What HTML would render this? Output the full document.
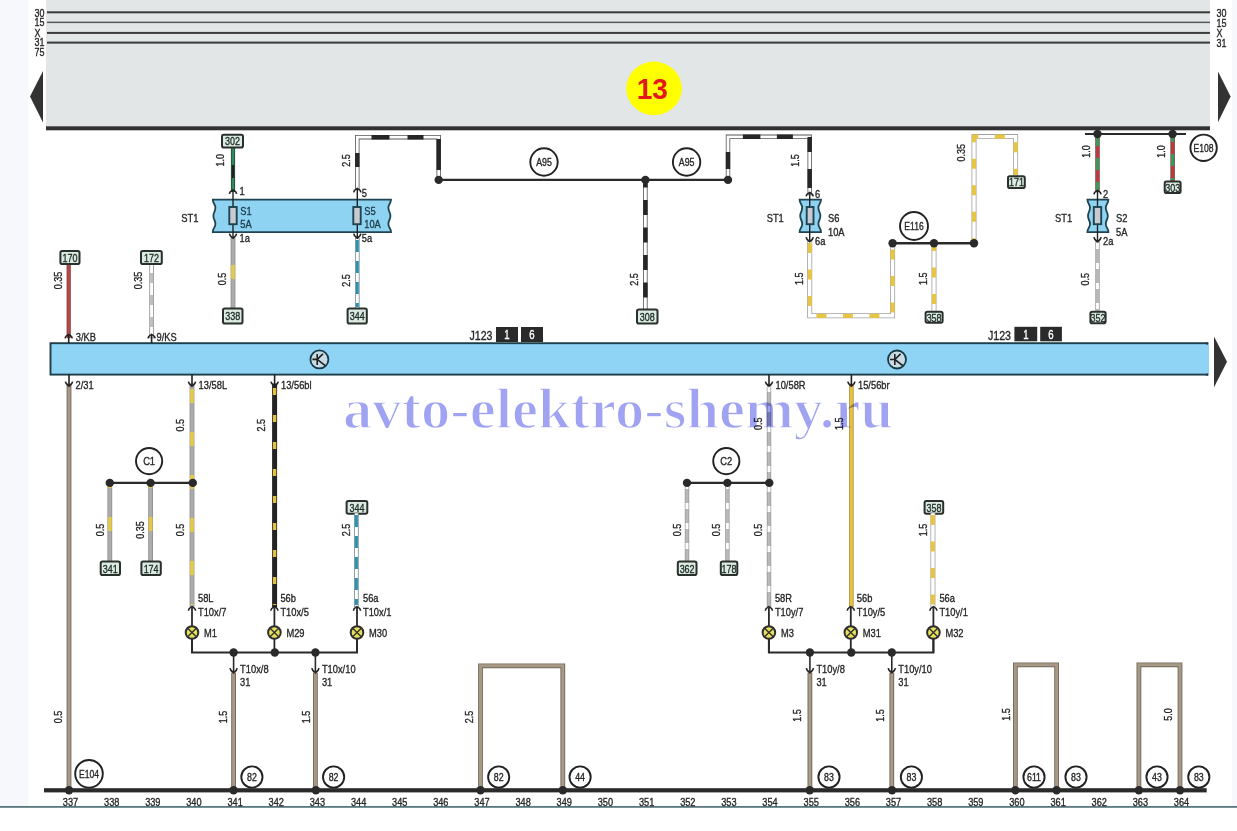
<!DOCTYPE html>
<html><head><meta charset="utf-8"><title>Wiring diagram</title>
<style>html,body{margin:0;padding:0;background:#fff;overflow:hidden;width:1237px;height:831px}svg{display:block}</style>
</head><body>
<svg width="1237" height="831" viewBox="0 0 1237 831" font-family='"Liberation Sans", sans-serif'><rect x="0" y="0" width="1237" height="831" fill="#ffffff"/>
<rect x="0" y="0" width="28.5" height="806" fill="#f7f8fb"/>
<rect x="1232" y="0" width="5" height="806" fill="#f7f8fb"/>
<rect x="0" y="806" width="1237" height="1.8" fill="#5a7880"/>
<rect x="46" y="0" width="1164" height="127" fill="#e2e6e7"/>
<rect x="47" y="11.3" width="1163" height="2.0" fill="#3a3a3a"/>
<rect x="47" y="21.6" width="1163" height="1.5" fill="#5a5a5a"/>
<rect x="47" y="31.9" width="1163" height="2.0" fill="#3a3a3a"/>
<rect x="47" y="41.6" width="1163" height="2.0" fill="#3a3a3a"/>
<rect x="46" y="126.3" width="1164" height="4" fill="#323232"/>
<text transform="translate(34.5,16.6) scale(0.78,1)" font-size="11.5" text-anchor="start" fill="#262626" font-weight="normal" stroke="#262626" stroke-width="0.35">30</text>
<text transform="translate(34.5,26.2) scale(0.78,1)" font-size="11.5" text-anchor="start" fill="#262626" font-weight="normal" stroke="#262626" stroke-width="0.35">15</text>
<text transform="translate(34.5,36.5) scale(0.78,1)" font-size="11.5" text-anchor="start" fill="#262626" font-weight="normal" stroke="#262626" stroke-width="0.35">X</text>
<text transform="translate(34.5,46.3) scale(0.78,1)" font-size="11.5" text-anchor="start" fill="#262626" font-weight="normal" stroke="#262626" stroke-width="0.35">31</text>
<text transform="translate(34.5,56.0) scale(0.78,1)" font-size="11.5" text-anchor="start" fill="#262626" font-weight="normal" stroke="#262626" stroke-width="0.35">75</text>
<text transform="translate(1216.5,16.9) scale(0.78,1)" font-size="11.5" text-anchor="start" fill="#262626" font-weight="normal" stroke="#262626" stroke-width="0.35">30</text>
<text transform="translate(1216.5,27.0) scale(0.78,1)" font-size="11.5" text-anchor="start" fill="#262626" font-weight="normal" stroke="#262626" stroke-width="0.35">15</text>
<text transform="translate(1216.5,37.0) scale(0.78,1)" font-size="11.5" text-anchor="start" fill="#262626" font-weight="normal" stroke="#262626" stroke-width="0.35">X</text>
<text transform="translate(1216.5,47.2) scale(0.78,1)" font-size="11.5" text-anchor="start" fill="#262626" font-weight="normal" stroke="#262626" stroke-width="0.35">31</text>
<path d="M30,96.5 L43,71 L43,122.5 Z" fill="#333"/>
<path d="M1230.6,96.5 L1218,71.6 L1218,122.2 Z" fill="#333"/>
<ellipse cx="654" cy="88.4" rx="27.8" ry="26.8" fill="#ffff00"/>
<text transform="translate(652.3,99.0) scale(0.97,1)" font-size="29" text-anchor="middle" fill="#e2181c" font-weight="bold">13</text>
<path d="M1085.0,134.0 L1186.0,134.0" fill="none" stroke="#2a2a2a" stroke-width="2.2" stroke-linecap="butt" stroke-linejoin="miter"/>
<path d="M212.8,199.6 C212.8,203.7 215.4,203.7 215.4,207.8 C215.4,211.8 213.4,211.8 213.4,215.9 C213.4,220.0 215.4,220.0 215.4,224.0 C215.4,228.1 212.8,228.1 212.8,232.2 L391.0,232.2 C391.0,228.1 388.4,228.1 388.4,224.0 C388.4,220.0 390.4,220.0 390.4,215.9 C390.4,211.8 388.4,211.8 388.4,207.8 C388.4,203.7 391.0,203.7 391.0,199.6 Z" fill="#8fd3f2" stroke="#1f4452" stroke-width="1.8" stroke-linejoin="miter"/>
<path d="M799.6,199.6 C799.6,203.7 802.2,203.7 802.2,207.8 C802.2,211.8 800.2,211.8 800.2,215.9 C800.2,220.0 802.2,220.0 802.2,224.0 C802.2,228.1 799.6,228.1 799.6,232.2 L821.0,232.2 C821.0,228.1 818.4,228.1 818.4,224.0 C818.4,220.0 820.4,220.0 820.4,215.9 C820.4,211.8 818.4,211.8 818.4,207.8 C818.4,203.7 821.0,203.7 821.0,199.6 Z" fill="#8fd3f2" stroke="#1f4452" stroke-width="1.8" stroke-linejoin="miter"/>
<path d="M1087.4,199.6 C1087.4,203.7 1090.0,203.7 1090.0,207.8 C1090.0,211.8 1088.0,211.8 1088.0,215.9 C1088.0,220.0 1090.0,220.0 1090.0,224.0 C1090.0,228.1 1087.4,228.1 1087.4,232.2 L1108.4,232.2 C1108.4,228.1 1105.8,228.1 1105.8,224.0 C1105.8,220.0 1107.8,220.0 1107.8,215.9 C1107.8,211.8 1105.8,211.8 1105.8,207.8 C1105.8,203.7 1108.4,203.7 1108.4,199.6 Z" fill="#8fd3f2" stroke="#1f4452" stroke-width="1.8" stroke-linejoin="miter"/>
<path d="M233.0,149.0 L233.0,190.0" fill="none" stroke="#2a4a3c" stroke-width="4.2" stroke-linejoin="miter" stroke-linecap="square"/>
<path d="M233.0,149.0 L233.0,190.0" fill="none" stroke="#2e8c5c" stroke-width="2.4" stroke-linejoin="miter" stroke-linecap="square"/>
<path d="M233.0,149.0 L233.0,190.0" fill="none" stroke="#222" stroke-width="2.4" stroke-dasharray="13 40" stroke-dashoffset="-16" stroke-linejoin="miter"/>
<rect x="222.0" y="134.7" width="21.0" height="12.8" rx="1.8" fill="#dcebe1" stroke="#2a302d" stroke-width="2"/>
<text transform="translate(232.5,145.3) scale(0.76,1)" font-size="11.8" text-anchor="middle" fill="#1d2a26" font-weight="normal" stroke="#1d2a26" stroke-width="0.35">302</text>
<text transform="translate(224.3,160.3) rotate(-90) scale(0.82,1)" font-size="11" text-anchor="middle" fill="#262626" stroke="#262626" stroke-width="0.35">1.0</text>
<path d="M233.0,190.0 L233.0,238.0" fill="none" stroke="#222" stroke-width="1.4" stroke-linecap="butt" stroke-linejoin="miter"/>
<rect x="229.3" y="207" width="7.4" height="17.2" fill="#c8ccd2" stroke="#1f4452" stroke-width="1.9"/>
<text transform="translate(239.5,195.0) scale(0.79,1)" font-size="11.8" text-anchor="start" fill="#262626" font-weight="normal" stroke="#262626" stroke-width="0.35">1</text>
<text transform="translate(240.3,214.8) scale(0.79,1)" font-size="11.8" text-anchor="start" fill="#1c3a48" font-weight="normal" stroke="#1c3a48" stroke-width="0.35">S1</text>
<text transform="translate(240.3,228.3) scale(0.79,1)" font-size="11.8" text-anchor="start" fill="#1c3a48" font-weight="normal" stroke="#1c3a48" stroke-width="0.35">5A</text>
<text transform="translate(239.5,242.0) scale(0.79,1)" font-size="11.8" text-anchor="start" fill="#262626" font-weight="normal" stroke="#262626" stroke-width="0.35">1a</text>
<path d="M233.0,240.0 L233.0,307.0" fill="none" stroke="#8e8e8e" stroke-width="4.8" stroke-linejoin="miter" stroke-linecap="square"/>
<path d="M233.0,240.0 L233.0,307.0" fill="none" stroke="#acacac" stroke-width="3.2" stroke-linejoin="miter" stroke-linecap="square"/>
<path d="M233.0,240.0 L233.0,307.0" fill="none" stroke="#e3c84a" stroke-width="3.8" stroke-dasharray="14 29" stroke-dashoffset="-25" stroke-linejoin="miter"/>
<text transform="translate(226.0,279.0) rotate(-90) scale(0.82,1)" font-size="11" text-anchor="middle" fill="#262626" stroke="#262626" stroke-width="0.35">0.5</text>
<rect x="223.0" y="308.5" width="19.5" height="15.0" rx="1.8" fill="#dcebe1" stroke="#2a302d" stroke-width="2"/>
<text transform="translate(232.8,320.2) scale(0.76,1)" font-size="11.8" text-anchor="middle" fill="#1d2a26" font-weight="normal" stroke="#1d2a26" stroke-width="0.35">338</text>
<text transform="translate(198.5,222.0) scale(0.82,1)" font-size="11.5" text-anchor="end" fill="#262626" font-weight="normal" stroke="#262626" stroke-width="0.35">ST1</text>
<path d="M357.3,188.0 L357.3,137.2 L438.7,137.2 L438.7,179.9" fill="none" stroke="#555" stroke-width="4.4" stroke-linejoin="miter" stroke-linecap="square"/>
<path d="M357.3,188.0 L357.3,137.2 L438.7,137.2 L438.7,179.9" fill="none" stroke="#ffffff" stroke-width="2.8" stroke-linejoin="miter" stroke-linecap="square"/>
<path d="M357.3,188.0 L357.3,137.2 L438.7,137.2 L438.7,179.9" fill="none" stroke="#262626" stroke-width="4.4" stroke-dasharray="0 21 14 30 18 18 16 17 31 100" stroke-dashoffset="0" stroke-linejoin="miter"/>
<text transform="translate(349.8,160.4) rotate(-90) scale(0.82,1)" font-size="11" text-anchor="middle" fill="#262626" stroke="#262626" stroke-width="0.35">2.5</text>
<path d="M357.3,188.0 L357.3,238.0" fill="none" stroke="#222" stroke-width="1.4" stroke-linecap="butt" stroke-linejoin="miter"/>
<rect x="353.3" y="207" width="7.4" height="17.2" fill="#c8ccd2" stroke="#1f4452" stroke-width="1.9"/>
<text transform="translate(361.7,197.0) scale(0.79,1)" font-size="11.8" text-anchor="start" fill="#262626" font-weight="normal" stroke="#262626" stroke-width="0.35">5</text>
<text transform="translate(364.2,214.8) scale(0.79,1)" font-size="11.8" text-anchor="start" fill="#1c3a48" font-weight="normal" stroke="#1c3a48" stroke-width="0.35">S5</text>
<text transform="translate(364.2,228.3) scale(0.79,1)" font-size="11.8" text-anchor="start" fill="#1c3a48" font-weight="normal" stroke="#1c3a48" stroke-width="0.35">10A</text>
<text transform="translate(361.7,242.0) scale(0.79,1)" font-size="11.8" text-anchor="start" fill="#262626" font-weight="normal" stroke="#262626" stroke-width="0.35">5a</text>
<path d="M357.3,240.0 L357.3,307.0" fill="none" stroke="#7a8a90" stroke-width="4.6" stroke-linejoin="miter" stroke-linecap="square"/>
<path d="M357.3,240.0 L357.3,307.0" fill="none" stroke="#ffffff" stroke-width="3" stroke-linejoin="miter" stroke-linecap="square"/>
<path d="M357.3,240.0 L357.3,307.0" fill="none" stroke="#2a93ad" stroke-width="3" stroke-dasharray="12 9" stroke-dashoffset="0" stroke-linejoin="miter"/>
<text transform="translate(349.8,280.4) rotate(-90) scale(0.82,1)" font-size="11" text-anchor="middle" fill="#262626" stroke="#262626" stroke-width="0.35">2.5</text>
<rect x="347.6" y="308.5" width="19.2" height="15.0" rx="1.8" fill="#dcebe1" stroke="#2a302d" stroke-width="2"/>
<text transform="translate(357.2,320.2) scale(0.76,1)" font-size="11.8" text-anchor="middle" fill="#1d2a26" font-weight="normal" stroke="#1d2a26" stroke-width="0.35">344</text>
<path d="M438.7,179.9 L728.0,179.9" fill="none" stroke="#2a2a2a" stroke-width="2.2" stroke-linecap="butt" stroke-linejoin="miter"/>
<circle cx="544.0" cy="162.0" r="13.7" fill="#fff" stroke="#222" stroke-width="1.9"/>
<text transform="translate(544.0,166.0) scale(0.8,1)" font-size="11" text-anchor="middle" fill="#262626" font-weight="normal" stroke="#262626" stroke-width="0.35">A95</text>
<circle cx="686.6" cy="162.0" r="13.7" fill="#fff" stroke="#222" stroke-width="1.9"/>
<text transform="translate(686.6,166.0) scale(0.8,1)" font-size="11" text-anchor="middle" fill="#262626" font-weight="normal" stroke="#262626" stroke-width="0.35">A95</text>
<path d="M645.4,180.0 L645.4,308.0" fill="none" stroke="#555" stroke-width="4.4" stroke-linejoin="miter" stroke-linecap="square"/>
<path d="M645.4,180.0 L645.4,308.0" fill="none" stroke="#ffffff" stroke-width="2.8" stroke-linejoin="miter" stroke-linecap="square"/>
<path d="M645.4,180.0 L645.4,308.0" fill="none" stroke="#262626" stroke-width="4.4" stroke-dasharray="15 12.5" stroke-dashoffset="7.5" stroke-linejoin="miter"/>
<text transform="translate(638.4,279.4) rotate(-90) scale(0.82,1)" font-size="11" text-anchor="middle" fill="#262626" stroke="#262626" stroke-width="0.35">2.5</text>
<rect x="637.0" y="309.5" width="20.5" height="14.0" rx="1.8" fill="#dcebe1" stroke="#2a302d" stroke-width="2"/>
<text transform="translate(647.2,320.7) scale(0.76,1)" font-size="11.8" text-anchor="middle" fill="#1d2a26" font-weight="normal" stroke="#1d2a26" stroke-width="0.35">308</text>
<circle cx="438.7" cy="179.9" r="4.2" fill="#2a2a2a"/>
<circle cx="645.4" cy="179.9" r="4.2" fill="#2a2a2a"/>
<path d="M728.0,179.9 L728.0,136.8 L809.7,136.8 L809.7,193.0" fill="none" stroke="#555" stroke-width="4.4" stroke-linejoin="miter" stroke-linecap="square"/>
<path d="M728.0,179.9 L728.0,136.8 L809.7,136.8 L809.7,193.0" fill="none" stroke="#ffffff" stroke-width="2.8" stroke-linejoin="miter" stroke-linecap="square"/>
<path d="M728.0,179.9 L728.0,136.8 L809.7,136.8 L809.7,193.0" fill="none" stroke="#262626" stroke-width="4.4" stroke-dasharray="0 11 17 30 17.5 16.5 16 17 15 17 19 100" stroke-dashoffset="0" stroke-linejoin="miter"/>
<circle cx="728.0" cy="179.9" r="4.2" fill="#2a2a2a"/>
<text transform="translate(798.5,160.4) rotate(-90) scale(0.82,1)" font-size="11" text-anchor="middle" fill="#262626" stroke="#262626" stroke-width="0.35">1.5</text>
<path d="M809.7,192.0 L809.7,242.0" fill="none" stroke="#222" stroke-width="1.4" stroke-linecap="butt" stroke-linejoin="miter"/>
<rect x="806.7" y="207" width="6.8" height="17.2" fill="#c8ccd2" stroke="#1f4452" stroke-width="1.9"/>
<text transform="translate(815.0,197.5) scale(0.79,1)" font-size="11.8" text-anchor="start" fill="#262626" font-weight="normal" stroke="#262626" stroke-width="0.35">6</text>
<text transform="translate(766.7,222.0) scale(0.79,1)" font-size="11.8" text-anchor="start" fill="#262626" font-weight="normal" stroke="#262626" stroke-width="0.35">ST1</text>
<text transform="translate(828.0,221.5) scale(0.79,1)" font-size="11.8" text-anchor="start" fill="#222" font-weight="normal" stroke="#222" stroke-width="0.35">S6</text>
<text transform="translate(828.0,235.5) scale(0.79,1)" font-size="11.8" text-anchor="start" fill="#222" font-weight="normal" stroke="#222" stroke-width="0.35">10A</text>
<text transform="translate(815.0,245.0) scale(0.79,1)" font-size="11.8" text-anchor="start" fill="#262626" font-weight="normal" stroke="#262626" stroke-width="0.35">6a</text>
<path d="M809.7,243.0 L809.7,315.8 L892.6,315.8 L892.6,243.3" fill="none" stroke="#a0a0a0" stroke-width="5" stroke-linejoin="miter" stroke-linecap="square"/>
<path d="M809.7,243.0 L809.7,315.8 L892.6,315.8 L892.6,243.3" fill="none" stroke="#ffffff" stroke-width="3.4" stroke-linejoin="miter" stroke-linecap="square"/>
<path d="M809.7,243.0 L809.7,315.8 L892.6,315.8 L892.6,243.3" fill="none" stroke="#e6c444" stroke-width="4.2" stroke-dasharray="10 16.5" stroke-dashoffset="0" stroke-linejoin="miter"/>
<text transform="translate(802.8,278.7) rotate(-90) scale(0.82,1)" font-size="11" text-anchor="middle" fill="#262626" stroke="#262626" stroke-width="0.35">1.5</text>
<circle cx="914.0" cy="226.0" r="14.0" fill="#fff" stroke="#222" stroke-width="1.9"/>
<text transform="translate(914.0,230.0) scale(0.78,1)" font-size="11" text-anchor="middle" fill="#262626" font-weight="normal" stroke="#262626" stroke-width="0.35">E116</text>
<path d="M892.6,243.3 L974.0,243.3" fill="none" stroke="#2a2a2a" stroke-width="2.4" stroke-linecap="butt" stroke-linejoin="miter"/>
<path d="M934.0,244.0 L934.0,310.0" fill="none" stroke="#a0a0a0" stroke-width="5" stroke-linejoin="miter" stroke-linecap="square"/>
<path d="M934.0,244.0 L934.0,310.0" fill="none" stroke="#ffffff" stroke-width="3.4" stroke-linejoin="miter" stroke-linecap="square"/>
<path d="M934.0,244.0 L934.0,310.0" fill="none" stroke="#e6c444" stroke-width="4.2" stroke-dasharray="10 16.5" stroke-dashoffset="3" stroke-linejoin="miter"/>
<text transform="translate(927.4,278.7) rotate(-90) scale(0.82,1)" font-size="11" text-anchor="middle" fill="#262626" stroke="#262626" stroke-width="0.35">1.5</text>
<rect x="925.6" y="311.7" width="17.0" height="11.1" rx="1.8" fill="#dcebe1" stroke="#2a302d" stroke-width="2"/>
<text transform="translate(934.1,321.5) scale(0.76,1)" font-size="11.8" text-anchor="middle" fill="#1d2a26" font-weight="normal" stroke="#1d2a26" stroke-width="0.35">358</text>
<path d="M974.0,243.3 L974.0,136.6 L1015.6,136.6 L1015.6,175.0" fill="none" stroke="#a0a0a0" stroke-width="5" stroke-linejoin="miter" stroke-linecap="square"/>
<path d="M974.0,243.3 L974.0,136.6 L1015.6,136.6 L1015.6,175.0" fill="none" stroke="#ffffff" stroke-width="3.4" stroke-linejoin="miter" stroke-linecap="square"/>
<path d="M974.0,243.3 L974.0,136.6 L1015.6,136.6 L1015.6,175.0" fill="none" stroke="#e6c444" stroke-width="4.2" stroke-dasharray="10 16.5" stroke-dashoffset="5" stroke-linejoin="miter"/>
<text transform="translate(965.3,152.8) rotate(-90) scale(0.82,1)" font-size="11" text-anchor="middle" fill="#262626" stroke="#262626" stroke-width="0.35">0.35</text>
<rect x="1008.0" y="176.3" width="16.8" height="11.7" rx="1.8" fill="#dcebe1" stroke="#2a302d" stroke-width="2"/>
<text transform="translate(1016.4,186.4) scale(0.76,1)" font-size="11.8" text-anchor="middle" fill="#1d2a26" font-weight="normal" stroke="#1d2a26" stroke-width="0.35">171</text>
<circle cx="892.6" cy="243.3" r="4.2" fill="#2a2a2a"/>
<circle cx="934.0" cy="243.3" r="4.2" fill="#2a2a2a"/>
<circle cx="974.0" cy="243.3" r="4.2" fill="#2a2a2a"/>
<path d="M1097.5,134.0 L1097.5,190.0" fill="none" stroke="#5a3a3a" stroke-width="4.4" stroke-linejoin="miter" stroke-linecap="square"/>
<path d="M1097.5,134.0 L1097.5,190.0" fill="none" stroke="#c03a3a" stroke-width="3" stroke-linejoin="miter" stroke-linecap="square"/>
<path d="M1097.5,134.0 L1097.5,190.0" fill="none" stroke="#3a9a5a" stroke-width="3" stroke-dasharray="12 12" stroke-dashoffset="0" stroke-linejoin="miter"/>
<circle cx="1097.5" cy="134.0" r="4.2" fill="#2a2a2a"/>
<text transform="translate(1090.0,151.6) rotate(-90) scale(0.82,1)" font-size="11" text-anchor="middle" fill="#262626" stroke="#262626" stroke-width="0.35">1.0</text>
<path d="M1097.5,190.0 L1097.5,242.0" fill="none" stroke="#222" stroke-width="1.4" stroke-linecap="butt" stroke-linejoin="miter"/>
<rect x="1093.8" y="207" width="7.4" height="17.2" fill="#c8ccd2" stroke="#1f4452" stroke-width="1.9"/>
<text transform="translate(1103.0,197.5) scale(0.79,1)" font-size="11.8" text-anchor="start" fill="#262626" font-weight="normal" stroke="#262626" stroke-width="0.35">2</text>
<text transform="translate(1055.0,222.0) scale(0.79,1)" font-size="11.8" text-anchor="start" fill="#262626" font-weight="normal" stroke="#262626" stroke-width="0.35">ST1</text>
<text transform="translate(1116.0,221.5) scale(0.79,1)" font-size="11.8" text-anchor="start" fill="#262626" font-weight="normal" stroke="#262626" stroke-width="0.35">S2</text>
<text transform="translate(1116.0,235.5) scale(0.79,1)" font-size="11.8" text-anchor="start" fill="#262626" font-weight="normal" stroke="#262626" stroke-width="0.35">5A</text>
<text transform="translate(1103.0,245.0) scale(0.79,1)" font-size="11.8" text-anchor="start" fill="#262626" font-weight="normal" stroke="#262626" stroke-width="0.35">2a</text>
<path d="M1097.5,243.0 L1097.5,310.0" fill="none" stroke="#999999" stroke-width="4.4" stroke-linejoin="miter" stroke-linecap="square"/>
<path d="M1097.5,243.0 L1097.5,310.0" fill="none" stroke="#b9b9b9" stroke-width="2.8" stroke-linejoin="miter" stroke-linecap="square"/>
<path d="M1097.5,243.0 L1097.5,310.0" fill="none" stroke="#ffffff" stroke-width="2.8" stroke-dasharray="6 14" stroke-dashoffset="0" stroke-linejoin="miter"/>
<text transform="translate(1089.0,279.2) rotate(-90) scale(0.82,1)" font-size="11" text-anchor="middle" fill="#262626" stroke="#262626" stroke-width="0.35">0.5</text>
<rect x="1090.4" y="311.8" width="15.2" height="11.4" rx="1.8" fill="#dcebe1" stroke="#2a302d" stroke-width="2"/>
<text transform="translate(1098.0,321.7) scale(0.76,1)" font-size="11.8" text-anchor="middle" fill="#1d2a26" font-weight="normal" stroke="#1d2a26" stroke-width="0.35">352</text>
<path d="M1172.6,134.0 L1172.6,180.0" fill="none" stroke="#5a3a3a" stroke-width="4.4" stroke-linejoin="miter" stroke-linecap="square"/>
<path d="M1172.6,134.0 L1172.6,180.0" fill="none" stroke="#c03a3a" stroke-width="3" stroke-linejoin="miter" stroke-linecap="square"/>
<path d="M1172.6,134.0 L1172.6,180.0" fill="none" stroke="#3a9a5a" stroke-width="3" stroke-dasharray="12 12" stroke-dashoffset="4" stroke-linejoin="miter"/>
<circle cx="1172.6" cy="134.0" r="4.2" fill="#2a2a2a"/>
<text transform="translate(1164.7,151.6) rotate(-90) scale(0.82,1)" font-size="11" text-anchor="middle" fill="#262626" stroke="#262626" stroke-width="0.35">1.0</text>
<rect x="1164.7" y="181.6" width="15.9" height="11.4" rx="1.8" fill="#dcebe1" stroke="#2a302d" stroke-width="2"/>
<text transform="translate(1172.7,191.5) scale(0.76,1)" font-size="11.8" text-anchor="middle" fill="#1d2a26" font-weight="normal" stroke="#1d2a26" stroke-width="0.35">303</text>
<circle cx="1203.6" cy="147.8" r="13.2" fill="#fff" stroke="#222" stroke-width="1.9"/>
<text transform="translate(1203.6,151.8) scale(0.78,1)" font-size="11" text-anchor="middle" fill="#262626" font-weight="normal" stroke="#262626" stroke-width="0.35">E108</text>
<path d="M68.7,265.0 L68.7,336.0" fill="none" stroke="#8a3a3a" stroke-width="4.2" stroke-linejoin="miter" stroke-linecap="square"/>
<path d="M68.7,265.0 L68.7,336.0" fill="none" stroke="#b94848" stroke-width="2.4" stroke-linejoin="miter" stroke-linecap="square"/>
<rect x="60.4" y="251.0" width="19.1" height="13.0" rx="1.8" fill="#dcebe1" stroke="#2a302d" stroke-width="2"/>
<text transform="translate(70.0,261.7) scale(0.76,1)" font-size="11.8" text-anchor="middle" fill="#1d2a26" font-weight="normal" stroke="#1d2a26" stroke-width="0.35">170</text>
<text transform="translate(62.1,280.4) rotate(-90) scale(0.82,1)" font-size="11" text-anchor="middle" fill="#262626" stroke="#262626" stroke-width="0.35">0.35</text>
<text transform="translate(75.8,340.8) scale(0.79,1)" font-size="11.8" text-anchor="start" fill="#262626" font-weight="normal" stroke="#262626" stroke-width="0.35">3/KB</text>
<path d="M151.6,265.0 L151.6,336.0" fill="none" stroke="#8e8e8e" stroke-width="4.6" stroke-linejoin="miter" stroke-linecap="square"/>
<path d="M151.6,265.0 L151.6,336.0" fill="none" stroke="#ffffff" stroke-width="3" stroke-linejoin="miter" stroke-linecap="square"/>
<path d="M151.6,265.0 L151.6,336.0" fill="none" stroke="#bdbdbd" stroke-width="3" stroke-dasharray="10 12" stroke-dashoffset="-8" stroke-linejoin="miter"/>
<rect x="141.0" y="251.0" width="20.8" height="13.0" rx="1.8" fill="#dcebe1" stroke="#2a302d" stroke-width="2"/>
<text transform="translate(151.4,261.7) scale(0.76,1)" font-size="11.8" text-anchor="middle" fill="#1d2a26" font-weight="normal" stroke="#1d2a26" stroke-width="0.35">172</text>
<text transform="translate(141.7,280.4) rotate(-90) scale(0.82,1)" font-size="11" text-anchor="middle" fill="#262626" stroke="#262626" stroke-width="0.35">0.35</text>
<text transform="translate(156.6,340.8) scale(0.79,1)" font-size="11.8" text-anchor="start" fill="#262626" font-weight="normal" stroke="#262626" stroke-width="0.35">9/KS</text>
<rect x="50.5" y="343.2" width="1157" height="31.4" fill="#8fd4f5" stroke="#1d3e4a" stroke-width="1.9"/>
<rect x="1206" y="344.3" width="3" height="29.3" fill="#8fd4f5"/>
<rect x="1206" y="342.5" width="2" height="2" fill="#1d3e4a"/><rect x="1206" y="373.6" width="2" height="2" fill="#1d3e4a"/>
<circle cx="319.4" cy="359.4" r="9" fill="#c9dbe4" stroke="#173a48" stroke-width="1.8"/>
<path d="M312.4,359.4 L317.2,359.4 M317.2,353.9 L317.2,364.9 M317.2,359.4 L323.0,353.79999999999995 M317.2,359.4 L325.2,365.59999999999997" stroke="#222" stroke-width="1.6" fill="none"/>
<circle cx="897" cy="359.5" r="9" fill="#c9dbe4" stroke="#173a48" stroke-width="1.8"/>
<path d="M890,359.5 L894.8,359.5 M894.8,354.0 L894.8,365.0 M894.8,359.5 L900.6,353.9 M894.8,359.5 L902.8,365.7" stroke="#222" stroke-width="1.6" fill="none"/>
<text transform="translate(492.5,339.6) scale(0.85,1)" font-size="12.5" text-anchor="end" fill="#262626" font-weight="normal" stroke="#262626" stroke-width="0.35">J123</text>
<rect x="496" y="327" width="22" height="15" fill="#2a2a2a"/><rect x="521" y="327" width="22" height="15" fill="#2a2a2a"/>
<text transform="translate(507.0,338.8) scale(0.8,1)" font-size="12" text-anchor="middle" fill="#fff" font-weight="normal" stroke="#fff" stroke-width="0.35">1</text>
<text transform="translate(532.0,338.8) scale(0.8,1)" font-size="12" text-anchor="middle" fill="#fff" font-weight="normal" stroke="#fff" stroke-width="0.35">6</text>
<text transform="translate(1011.0,339.6) scale(0.85,1)" font-size="12.5" text-anchor="end" fill="#262626" font-weight="normal" stroke="#262626" stroke-width="0.35">J123</text>
<rect x="1014.4" y="326.8" width="22.8" height="14.5" fill="#2a2a2a"/><rect x="1040.2" y="326.8" width="21.7" height="14.5" fill="#2a2a2a"/>
<text transform="translate(1025.8,338.6) scale(0.8,1)" font-size="12" text-anchor="middle" fill="#fff" font-weight="normal" stroke="#fff" stroke-width="0.35">1</text>
<text transform="translate(1051.0,338.6) scale(0.8,1)" font-size="12" text-anchor="middle" fill="#fff" font-weight="normal" stroke="#fff" stroke-width="0.35">6</text>
<path d="M1227,361.8 L1214,336.4 L1214,387.2 Z" fill="#333"/>
<text transform="translate(75.5,389.0) scale(0.79,1)" font-size="11.8" text-anchor="start" fill="#262626" font-weight="normal" stroke="#262626" stroke-width="0.35">2/31</text>
<path d="M69.0,386.0 L69.0,790.0" fill="none" stroke="#74685a" stroke-width="4.8" stroke-linejoin="miter" stroke-linecap="square"/>
<path d="M69.0,386.0 L69.0,790.0" fill="none" stroke="#a69a86" stroke-width="3.0" stroke-linejoin="miter" stroke-linecap="square"/>
<text transform="translate(62.0,717.0) rotate(-90) scale(0.82,1)" font-size="11" text-anchor="middle" fill="#262626" stroke="#262626" stroke-width="0.35">0.5</text>
<text transform="translate(198.6,389.0) scale(0.79,1)" font-size="11.8" text-anchor="start" fill="#262626" font-weight="normal" stroke="#262626" stroke-width="0.35">13/58L</text>
<path d="M192.0,386.0 L192.0,605.0" fill="none" stroke="#8e8e8e" stroke-width="4.8" stroke-linejoin="miter" stroke-linecap="square"/>
<path d="M192.0,386.0 L192.0,605.0" fill="none" stroke="#acacac" stroke-width="3.2" stroke-linejoin="miter" stroke-linecap="square"/>
<path d="M192.0,386.0 L192.0,605.0" fill="none" stroke="#e3c84a" stroke-width="3.8" stroke-dasharray="14 29" stroke-dashoffset="-3" stroke-linejoin="miter"/>
<text transform="translate(183.7,425.3) rotate(-90) scale(0.82,1)" font-size="11" text-anchor="middle" fill="#262626" stroke="#262626" stroke-width="0.35">0.5</text>
<text transform="translate(183.7,530.0) rotate(-90) scale(0.82,1)" font-size="11" text-anchor="middle" fill="#262626" stroke="#262626" stroke-width="0.35">0.5</text>
<text transform="translate(281.0,389.0) scale(0.79,1)" font-size="11.8" text-anchor="start" fill="#262626" font-weight="normal" stroke="#262626" stroke-width="0.35">13/56bl</text>
<path d="M274.6,386.0 L274.6,605.0" fill="none" stroke="#242424" stroke-width="5" stroke-linejoin="miter" stroke-linecap="square"/>
<path d="M274.6,386.0 L274.6,605.0" fill="none" stroke="#242424" stroke-width="3.4" stroke-linejoin="miter" stroke-linecap="square"/>
<path d="M274.6,386.0 L274.6,605.0" fill="none" stroke="#e4c040" stroke-width="3.4" stroke-dasharray="7 20" stroke-dashoffset="-2" stroke-linejoin="miter"/>
<text transform="translate(265.2,425.3) rotate(-90) scale(0.82,1)" font-size="11" text-anchor="middle" fill="#262626" stroke="#262626" stroke-width="0.35">2.5</text>
<circle cx="149.1" cy="461.1" r="13.1" fill="#fff" stroke="#222" stroke-width="1.9"/>
<text transform="translate(149.1,465.1) scale(0.85,1)" font-size="11" text-anchor="middle" fill="#262626" font-weight="normal" stroke="#262626" stroke-width="0.35">C1</text>
<path d="M109.8,482.9 L192.8,482.9" fill="none" stroke="#2a2a2a" stroke-width="2.1" stroke-linecap="butt" stroke-linejoin="miter"/>
<path d="M109.8,483.0 L109.8,560.0" fill="none" stroke="#8e8e8e" stroke-width="4.8" stroke-linejoin="miter" stroke-linecap="square"/>
<path d="M109.8,483.0 L109.8,560.0" fill="none" stroke="#acacac" stroke-width="3.2" stroke-linejoin="miter" stroke-linecap="square"/>
<path d="M109.8,483.0 L109.8,560.0" fill="none" stroke="#e3c84a" stroke-width="3.8" stroke-dasharray="14 29" stroke-dashoffset="-34" stroke-linejoin="miter"/>
<path d="M150.6,483.0 L150.6,560.0" fill="none" stroke="#8e8e8e" stroke-width="4.8" stroke-linejoin="miter" stroke-linecap="square"/>
<path d="M150.6,483.0 L150.6,560.0" fill="none" stroke="#acacac" stroke-width="3.2" stroke-linejoin="miter" stroke-linecap="square"/>
<path d="M150.6,483.0 L150.6,560.0" fill="none" stroke="#e3c84a" stroke-width="3.8" stroke-dasharray="14 29" stroke-dashoffset="-34" stroke-linejoin="miter"/>
<text transform="translate(103.7,530.0) rotate(-90) scale(0.82,1)" font-size="11" text-anchor="middle" fill="#262626" stroke="#262626" stroke-width="0.35">0.5</text>
<text transform="translate(143.5,530.0) rotate(-90) scale(0.82,1)" font-size="11" text-anchor="middle" fill="#262626" stroke="#262626" stroke-width="0.35">0.35</text>
<rect x="100.7" y="561.6" width="19.3" height="13.4" rx="1.8" fill="#dcebe1" stroke="#2a302d" stroke-width="2"/>
<text transform="translate(110.3,572.5) scale(0.76,1)" font-size="11.8" text-anchor="middle" fill="#1d2a26" font-weight="normal" stroke="#1d2a26" stroke-width="0.35">341</text>
<rect x="141.4" y="561.6" width="19.4" height="13.4" rx="1.8" fill="#dcebe1" stroke="#2a302d" stroke-width="2"/>
<text transform="translate(151.1,572.5) scale(0.76,1)" font-size="11.8" text-anchor="middle" fill="#1d2a26" font-weight="normal" stroke="#1d2a26" stroke-width="0.35">174</text>
<circle cx="109.8" cy="482.9" r="4.2" fill="#2a2a2a"/>
<circle cx="150.6" cy="482.9" r="4.2" fill="#2a2a2a"/>
<circle cx="192.8" cy="482.9" r="4.2" fill="#2a2a2a"/>
<rect x="346.6" y="501.0" width="20.7" height="12.8" rx="1.8" fill="#dcebe1" stroke="#2a302d" stroke-width="2"/>
<text transform="translate(357.0,511.6) scale(0.76,1)" font-size="11.8" text-anchor="middle" fill="#1d2a26" font-weight="normal" stroke="#1d2a26" stroke-width="0.35">344</text>
<path d="M356.4,515.0 L356.4,605.0" fill="none" stroke="#7a8a90" stroke-width="4.6" stroke-linejoin="miter" stroke-linecap="square"/>
<path d="M356.4,515.0 L356.4,605.0" fill="none" stroke="#ffffff" stroke-width="3" stroke-linejoin="miter" stroke-linecap="square"/>
<path d="M356.4,515.0 L356.4,605.0" fill="none" stroke="#2a93ad" stroke-width="3" stroke-dasharray="12 9" stroke-dashoffset="0" stroke-linejoin="miter"/>
<text transform="translate(349.6,530.0) rotate(-90) scale(0.82,1)" font-size="11" text-anchor="middle" fill="#262626" stroke="#262626" stroke-width="0.35">2.5</text>
<text transform="translate(198.0,601.8) scale(0.79,1)" font-size="11.8" text-anchor="start" fill="#262626" font-weight="normal" stroke="#262626" stroke-width="0.35">58L</text>
<text transform="translate(198.0,615.5) scale(0.79,1)" font-size="11.8" text-anchor="start" fill="#262626" font-weight="normal" stroke="#262626" stroke-width="0.35">T10x/7</text>
<path d="M192.0,607.5 L192.0,626.0" fill="none" stroke="#2a2a2a" stroke-width="1.8" stroke-linecap="butt" stroke-linejoin="miter"/>
<path d="M192.0,639.0 L192.0,652.5" fill="none" stroke="#2a2a2a" stroke-width="1.8" stroke-linecap="butt" stroke-linejoin="miter"/>
<circle cx="192.0" cy="632.5" r="6.3" fill="#e6df5a" stroke="#2e2e2e" stroke-width="2"/>
<path d="M187.7,628.2 L196.3,636.8 M196.3,628.2 L187.7,636.8" stroke="#333" stroke-width="1.4"/>
<text transform="translate(204.0,637.3) scale(0.79,1)" font-size="11.8" text-anchor="start" fill="#262626" font-weight="normal" stroke="#262626" stroke-width="0.35">M1</text>
<text transform="translate(280.4,601.8) scale(0.79,1)" font-size="11.8" text-anchor="start" fill="#262626" font-weight="normal" stroke="#262626" stroke-width="0.35">56b</text>
<text transform="translate(280.4,615.5) scale(0.79,1)" font-size="11.8" text-anchor="start" fill="#262626" font-weight="normal" stroke="#262626" stroke-width="0.35">T10x/5</text>
<path d="M274.4,607.5 L274.4,626.0" fill="none" stroke="#2a2a2a" stroke-width="1.8" stroke-linecap="butt" stroke-linejoin="miter"/>
<path d="M274.4,639.0 L274.4,652.5" fill="none" stroke="#2a2a2a" stroke-width="1.8" stroke-linecap="butt" stroke-linejoin="miter"/>
<circle cx="274.4" cy="632.5" r="6.3" fill="#e6df5a" stroke="#2e2e2e" stroke-width="2"/>
<path d="M270.1,628.2 L278.7,636.8 M278.7,628.2 L270.1,636.8" stroke="#333" stroke-width="1.4"/>
<text transform="translate(286.4,637.3) scale(0.79,1)" font-size="11.8" text-anchor="start" fill="#262626" font-weight="normal" stroke="#262626" stroke-width="0.35">M29</text>
<text transform="translate(363.0,601.8) scale(0.79,1)" font-size="11.8" text-anchor="start" fill="#262626" font-weight="normal" stroke="#262626" stroke-width="0.35">56a</text>
<text transform="translate(363.0,615.5) scale(0.79,1)" font-size="11.8" text-anchor="start" fill="#262626" font-weight="normal" stroke="#262626" stroke-width="0.35">T10x/1</text>
<path d="M357.0,607.5 L357.0,626.0" fill="none" stroke="#2a2a2a" stroke-width="1.8" stroke-linecap="butt" stroke-linejoin="miter"/>
<path d="M357.0,639.0 L357.0,652.5" fill="none" stroke="#2a2a2a" stroke-width="1.8" stroke-linecap="butt" stroke-linejoin="miter"/>
<circle cx="357.0" cy="632.5" r="6.3" fill="#e6df5a" stroke="#2e2e2e" stroke-width="2"/>
<path d="M352.7,628.2 L361.3,636.8 M361.3,628.2 L352.7,636.8" stroke="#333" stroke-width="1.4"/>
<text transform="translate(369.0,637.3) scale(0.79,1)" font-size="11.8" text-anchor="start" fill="#262626" font-weight="normal" stroke="#262626" stroke-width="0.35">M30</text>
<path d="M192.0,639.0 L192.0,652.5 L357.0,652.5 L357.0,639.0" fill="none" stroke="#2a2a2a" stroke-width="2" stroke-linecap="butt" stroke-linejoin="miter"/>
<circle cx="233.6" cy="652.5" r="4.2" fill="#2a2a2a"/>
<circle cx="274.8" cy="652.5" r="4.2" fill="#2a2a2a"/>
<circle cx="315.4" cy="652.5" r="4.2" fill="#2a2a2a"/>
<path d="M233.6,652.5 L233.6,672.0" fill="none" stroke="#2a2a2a" stroke-width="1.6" stroke-linecap="butt" stroke-linejoin="miter"/>
<text transform="translate(240.1,672.8) scale(0.79,1)" font-size="11.8" text-anchor="start" fill="#262626" font-weight="normal" stroke="#262626" stroke-width="0.35">T10x/8</text>
<text transform="translate(240.1,685.5) scale(0.79,1)" font-size="11.8" text-anchor="start" fill="#262626" font-weight="normal" stroke="#262626" stroke-width="0.35">31</text>
<path d="M315.4,652.5 L315.4,672.0" fill="none" stroke="#2a2a2a" stroke-width="1.6" stroke-linecap="butt" stroke-linejoin="miter"/>
<text transform="translate(321.9,672.8) scale(0.79,1)" font-size="11.8" text-anchor="start" fill="#262626" font-weight="normal" stroke="#262626" stroke-width="0.35">T10x/10</text>
<text transform="translate(321.9,685.5) scale(0.79,1)" font-size="11.8" text-anchor="start" fill="#262626" font-weight="normal" stroke="#262626" stroke-width="0.35">31</text>
<text transform="translate(775.5,389.0) scale(0.79,1)" font-size="11.8" text-anchor="start" fill="#262626" font-weight="normal" stroke="#262626" stroke-width="0.35">10/58R</text>
<path d="M769.0,386.0 L769.0,605.0" fill="none" stroke="#999999" stroke-width="4.4" stroke-linejoin="miter" stroke-linecap="square"/>
<path d="M769.0,386.0 L769.0,605.0" fill="none" stroke="#b9b9b9" stroke-width="2.8" stroke-linejoin="miter" stroke-linecap="square"/>
<path d="M769.0,386.0 L769.0,605.0" fill="none" stroke="#ffffff" stroke-width="2.8" stroke-dasharray="6 14" stroke-dashoffset="0" stroke-linejoin="miter"/>
<text transform="translate(761.7,423.8) rotate(-90) scale(0.82,1)" font-size="11" text-anchor="middle" fill="#262626" stroke="#262626" stroke-width="0.35">0.5</text>
<text transform="translate(761.7,530.0) rotate(-90) scale(0.82,1)" font-size="11" text-anchor="middle" fill="#262626" stroke="#262626" stroke-width="0.35">0.5</text>
<text transform="translate(858.0,389.0) scale(0.79,1)" font-size="11.8" text-anchor="start" fill="#262626" font-weight="normal" stroke="#262626" stroke-width="0.35">15/56br</text>
<path d="M851.4,386.0 L851.4,605.0" fill="none" stroke="#9a8030" stroke-width="4.4" stroke-linejoin="miter" stroke-linecap="square"/>
<path d="M851.4,386.0 L851.4,605.0" fill="none" stroke="#e8c23c" stroke-width="3" stroke-linejoin="miter" stroke-linecap="square"/>
<text transform="translate(842.6,423.8) rotate(-90) scale(0.82,1)" font-size="11" text-anchor="middle" fill="#262626" stroke="#262626" stroke-width="0.35">1.5</text>
<circle cx="726.3" cy="461.1" r="13.1" fill="#fff" stroke="#222" stroke-width="1.9"/>
<text transform="translate(726.3,465.1) scale(0.85,1)" font-size="11" text-anchor="middle" fill="#262626" font-weight="normal" stroke="#262626" stroke-width="0.35">C2</text>
<path d="M687.0,482.9 L769.3,482.9" fill="none" stroke="#2a2a2a" stroke-width="2.1" stroke-linecap="butt" stroke-linejoin="miter"/>
<path d="M687.0,483.0 L687.0,560.0" fill="none" stroke="#999999" stroke-width="4.4" stroke-linejoin="miter" stroke-linecap="square"/>
<path d="M687.0,483.0 L687.0,560.0" fill="none" stroke="#b9b9b9" stroke-width="2.8" stroke-linejoin="miter" stroke-linecap="square"/>
<path d="M687.0,483.0 L687.0,560.0" fill="none" stroke="#ffffff" stroke-width="2.8" stroke-dasharray="6 14" stroke-dashoffset="0" stroke-linejoin="miter"/>
<path d="M727.4,483.0 L727.4,560.0" fill="none" stroke="#999999" stroke-width="4.4" stroke-linejoin="miter" stroke-linecap="square"/>
<path d="M727.4,483.0 L727.4,560.0" fill="none" stroke="#b9b9b9" stroke-width="2.8" stroke-linejoin="miter" stroke-linecap="square"/>
<path d="M727.4,483.0 L727.4,560.0" fill="none" stroke="#ffffff" stroke-width="2.8" stroke-dasharray="6 14" stroke-dashoffset="0" stroke-linejoin="miter"/>
<text transform="translate(680.8,530.0) rotate(-90) scale(0.82,1)" font-size="11" text-anchor="middle" fill="#262626" stroke="#262626" stroke-width="0.35">0.5</text>
<text transform="translate(719.5,530.0) rotate(-90) scale(0.82,1)" font-size="11" text-anchor="middle" fill="#262626" stroke="#262626" stroke-width="0.35">0.5</text>
<rect x="677.8" y="561.6" width="18.7" height="13.4" rx="1.8" fill="#dcebe1" stroke="#2a302d" stroke-width="2"/>
<text transform="translate(687.1,572.5) scale(0.76,1)" font-size="11.8" text-anchor="middle" fill="#1d2a26" font-weight="normal" stroke="#1d2a26" stroke-width="0.35">362</text>
<rect x="720.8" y="561.6" width="16.5" height="13.4" rx="1.8" fill="#dcebe1" stroke="#2a302d" stroke-width="2"/>
<text transform="translate(729.0,572.5) scale(0.76,1)" font-size="11.8" text-anchor="middle" fill="#1d2a26" font-weight="normal" stroke="#1d2a26" stroke-width="0.35">178</text>
<circle cx="687.0" cy="482.9" r="4.2" fill="#2a2a2a"/>
<circle cx="727.4" cy="482.9" r="4.2" fill="#2a2a2a"/>
<circle cx="769.3" cy="482.9" r="4.2" fill="#2a2a2a"/>
<rect x="924.6" y="501.0" width="18.6" height="12.8" rx="1.8" fill="#dcebe1" stroke="#2a302d" stroke-width="2"/>
<text transform="translate(933.9,511.6) scale(0.76,1)" font-size="11.8" text-anchor="middle" fill="#1d2a26" font-weight="normal" stroke="#1d2a26" stroke-width="0.35">358</text>
<path d="M932.9,515.0 L932.9,605.0" fill="none" stroke="#a0a0a0" stroke-width="5" stroke-linejoin="miter" stroke-linecap="square"/>
<path d="M932.9,515.0 L932.9,605.0" fill="none" stroke="#ffffff" stroke-width="3.4" stroke-linejoin="miter" stroke-linecap="square"/>
<path d="M932.9,515.0 L932.9,605.0" fill="none" stroke="#e6c444" stroke-width="4.2" stroke-dasharray="10 16.5" stroke-dashoffset="0" stroke-linejoin="miter"/>
<text transform="translate(927.0,530.0) rotate(-90) scale(0.82,1)" font-size="11" text-anchor="middle" fill="#262626" stroke="#262626" stroke-width="0.35">1.5</text>
<text transform="translate(774.9,601.8) scale(0.79,1)" font-size="11.8" text-anchor="start" fill="#262626" font-weight="normal" stroke="#262626" stroke-width="0.35">58R</text>
<text transform="translate(774.9,615.5) scale(0.79,1)" font-size="11.8" text-anchor="start" fill="#262626" font-weight="normal" stroke="#262626" stroke-width="0.35">T10y/7</text>
<path d="M768.9,607.5 L768.9,626.0" fill="none" stroke="#2a2a2a" stroke-width="1.8" stroke-linecap="butt" stroke-linejoin="miter"/>
<path d="M768.9,639.0 L768.9,652.5" fill="none" stroke="#2a2a2a" stroke-width="1.8" stroke-linecap="butt" stroke-linejoin="miter"/>
<circle cx="768.9" cy="632.5" r="6.3" fill="#e6df5a" stroke="#2e2e2e" stroke-width="2"/>
<path d="M764.6,628.2 L773.2,636.8 M773.2,628.2 L764.6,636.8" stroke="#333" stroke-width="1.4"/>
<text transform="translate(780.9,637.3) scale(0.79,1)" font-size="11.8" text-anchor="start" fill="#262626" font-weight="normal" stroke="#262626" stroke-width="0.35">M3</text>
<text transform="translate(856.8,601.8) scale(0.79,1)" font-size="11.8" text-anchor="start" fill="#262626" font-weight="normal" stroke="#262626" stroke-width="0.35">56b</text>
<text transform="translate(856.8,615.5) scale(0.79,1)" font-size="11.8" text-anchor="start" fill="#262626" font-weight="normal" stroke="#262626" stroke-width="0.35">T10y/5</text>
<path d="M850.8,607.5 L850.8,626.0" fill="none" stroke="#2a2a2a" stroke-width="1.8" stroke-linecap="butt" stroke-linejoin="miter"/>
<path d="M850.8,639.0 L850.8,652.5" fill="none" stroke="#2a2a2a" stroke-width="1.8" stroke-linecap="butt" stroke-linejoin="miter"/>
<circle cx="850.8" cy="632.5" r="6.3" fill="#e6df5a" stroke="#2e2e2e" stroke-width="2"/>
<path d="M846.5,628.2 L855.1,636.8 M855.1,628.2 L846.5,636.8" stroke="#333" stroke-width="1.4"/>
<text transform="translate(862.8,637.3) scale(0.79,1)" font-size="11.8" text-anchor="start" fill="#262626" font-weight="normal" stroke="#262626" stroke-width="0.35">M31</text>
<text transform="translate(939.4,601.8) scale(0.79,1)" font-size="11.8" text-anchor="start" fill="#262626" font-weight="normal" stroke="#262626" stroke-width="0.35">56a</text>
<text transform="translate(939.4,615.5) scale(0.79,1)" font-size="11.8" text-anchor="start" fill="#262626" font-weight="normal" stroke="#262626" stroke-width="0.35">T10y/1</text>
<path d="M933.4,607.5 L933.4,626.0" fill="none" stroke="#2a2a2a" stroke-width="1.8" stroke-linecap="butt" stroke-linejoin="miter"/>
<path d="M933.4,639.0 L933.4,652.5" fill="none" stroke="#2a2a2a" stroke-width="1.8" stroke-linecap="butt" stroke-linejoin="miter"/>
<circle cx="933.4" cy="632.5" r="6.3" fill="#e6df5a" stroke="#2e2e2e" stroke-width="2"/>
<path d="M929.1,628.2 L937.7,636.8 M937.7,628.2 L929.1,636.8" stroke="#333" stroke-width="1.4"/>
<text transform="translate(945.4,637.3) scale(0.79,1)" font-size="11.8" text-anchor="start" fill="#262626" font-weight="normal" stroke="#262626" stroke-width="0.35">M32</text>
<path d="M768.9,639.0 L768.9,652.5 L933.4,652.5 L933.4,639.0" fill="none" stroke="#2a2a2a" stroke-width="2" stroke-linecap="butt" stroke-linejoin="miter"/>
<circle cx="809.9" cy="652.5" r="4.2" fill="#2a2a2a"/>
<circle cx="851.3" cy="652.5" r="4.2" fill="#2a2a2a"/>
<circle cx="891.8" cy="652.5" r="4.2" fill="#2a2a2a"/>
<path d="M809.9,652.5 L809.9,672.0" fill="none" stroke="#2a2a2a" stroke-width="1.6" stroke-linecap="butt" stroke-linejoin="miter"/>
<text transform="translate(816.4,672.8) scale(0.79,1)" font-size="11.8" text-anchor="start" fill="#262626" font-weight="normal" stroke="#262626" stroke-width="0.35">T10y/8</text>
<text transform="translate(816.4,685.5) scale(0.79,1)" font-size="11.8" text-anchor="start" fill="#262626" font-weight="normal" stroke="#262626" stroke-width="0.35">31</text>
<path d="M891.8,652.5 L891.8,672.0" fill="none" stroke="#2a2a2a" stroke-width="1.6" stroke-linecap="butt" stroke-linejoin="miter"/>
<text transform="translate(898.3,672.8) scale(0.79,1)" font-size="11.8" text-anchor="start" fill="#262626" font-weight="normal" stroke="#262626" stroke-width="0.35">T10y/10</text>
<text transform="translate(898.3,685.5) scale(0.79,1)" font-size="11.8" text-anchor="start" fill="#262626" font-weight="normal" stroke="#262626" stroke-width="0.35">31</text>
<path d="M233.6,675.0 L233.6,790.0" fill="none" stroke="#74685a" stroke-width="4.8" stroke-linejoin="miter" stroke-linecap="square"/>
<path d="M233.6,675.0 L233.6,790.0" fill="none" stroke="#a69a86" stroke-width="3.0" stroke-linejoin="miter" stroke-linecap="square"/>
<path d="M315.4,675.0 L315.4,790.0" fill="none" stroke="#74685a" stroke-width="4.8" stroke-linejoin="miter" stroke-linecap="square"/>
<path d="M315.4,675.0 L315.4,790.0" fill="none" stroke="#a69a86" stroke-width="3.0" stroke-linejoin="miter" stroke-linecap="square"/>
<text transform="translate(227.3,717.0) rotate(-90) scale(0.82,1)" font-size="11" text-anchor="middle" fill="#262626" stroke="#262626" stroke-width="0.35">1.5</text>
<text transform="translate(310.2,717.0) rotate(-90) scale(0.82,1)" font-size="11" text-anchor="middle" fill="#262626" stroke="#262626" stroke-width="0.35">1.5</text>
<path d="M480.5,790.0 L480.5,665.8 L562.8,665.8 L562.8,790.0" fill="none" stroke="#74685a" stroke-width="4.8" stroke-linejoin="miter" stroke-linecap="square"/>
<path d="M480.5,790.0 L480.5,665.8 L562.8,665.8 L562.8,790.0" fill="none" stroke="#a69a86" stroke-width="3.0" stroke-linejoin="miter" stroke-linecap="square"/>
<text transform="translate(472.5,717.0) rotate(-90) scale(0.82,1)" font-size="11" text-anchor="middle" fill="#262626" stroke="#262626" stroke-width="0.35">2.5</text>
<path d="M809.9,675.0 L809.9,790.0" fill="none" stroke="#74685a" stroke-width="4.8" stroke-linejoin="miter" stroke-linecap="square"/>
<path d="M809.9,675.0 L809.9,790.0" fill="none" stroke="#a69a86" stroke-width="3.0" stroke-linejoin="miter" stroke-linecap="square"/>
<path d="M891.8,675.0 L891.8,790.0" fill="none" stroke="#74685a" stroke-width="4.8" stroke-linejoin="miter" stroke-linecap="square"/>
<path d="M891.8,675.0 L891.8,790.0" fill="none" stroke="#a69a86" stroke-width="3.0" stroke-linejoin="miter" stroke-linecap="square"/>
<text transform="translate(801.4,715.6) rotate(-90) scale(0.82,1)" font-size="11" text-anchor="middle" fill="#262626" stroke="#262626" stroke-width="0.35">1.5</text>
<text transform="translate(884.4,715.6) rotate(-90) scale(0.82,1)" font-size="11" text-anchor="middle" fill="#262626" stroke="#262626" stroke-width="0.35">1.5</text>
<path d="M1015.4,790.0 L1015.4,664.8 L1056.6,664.8 L1056.6,790.0" fill="none" stroke="#74685a" stroke-width="4.8" stroke-linejoin="miter" stroke-linecap="square"/>
<path d="M1015.4,790.0 L1015.4,664.8 L1056.6,664.8 L1056.6,790.0" fill="none" stroke="#a69a86" stroke-width="3.0" stroke-linejoin="miter" stroke-linecap="square"/>
<text transform="translate(1009.7,714.5) rotate(-90) scale(0.82,1)" font-size="11" text-anchor="middle" fill="#262626" stroke="#262626" stroke-width="0.35">1.5</text>
<path d="M1138.9,790.0 L1138.9,664.8 L1180.0,664.8 L1180.0,790.0" fill="none" stroke="#74685a" stroke-width="4.8" stroke-linejoin="miter" stroke-linecap="square"/>
<path d="M1138.9,790.0 L1138.9,664.8 L1180.0,664.8 L1180.0,790.0" fill="none" stroke="#a69a86" stroke-width="3.0" stroke-linejoin="miter" stroke-linecap="square"/>
<text transform="translate(1172.3,714.5) rotate(-90) scale(0.82,1)" font-size="11" text-anchor="middle" fill="#262626" stroke="#262626" stroke-width="0.35">5.0</text>
<rect x="44" y="788.2" width="1162.7" height="4.2" fill="#2a2a2a"/>
<circle cx="69.0" cy="790.3" r="4.2" fill="#2a2a2a"/>
<circle cx="233.6" cy="790.3" r="4.2" fill="#2a2a2a"/>
<circle cx="315.9" cy="790.3" r="4.2" fill="#2a2a2a"/>
<circle cx="480.5" cy="790.3" r="4.2" fill="#2a2a2a"/>
<circle cx="562.8" cy="790.3" r="4.2" fill="#2a2a2a"/>
<circle cx="809.7" cy="790.3" r="4.2" fill="#2a2a2a"/>
<circle cx="892.0" cy="790.3" r="4.2" fill="#2a2a2a"/>
<circle cx="1015.4" cy="790.3" r="4.2" fill="#2a2a2a"/>
<circle cx="1056.6" cy="790.3" r="4.2" fill="#2a2a2a"/>
<circle cx="1138.9" cy="790.3" r="4.2" fill="#2a2a2a"/>
<circle cx="1180.0" cy="790.3" r="4.2" fill="#2a2a2a"/>
<text transform="translate(70.5,805.6) scale(0.8,1)" font-size="11.5" text-anchor="middle" fill="#262626" font-weight="normal" stroke="#262626" stroke-width="0.35">337</text>
<text transform="translate(111.7,805.6) scale(0.8,1)" font-size="11.5" text-anchor="middle" fill="#262626" font-weight="normal" stroke="#262626" stroke-width="0.35">338</text>
<text transform="translate(152.8,805.6) scale(0.8,1)" font-size="11.5" text-anchor="middle" fill="#262626" font-weight="normal" stroke="#262626" stroke-width="0.35">339</text>
<text transform="translate(193.9,805.6) scale(0.8,1)" font-size="11.5" text-anchor="middle" fill="#262626" font-weight="normal" stroke="#262626" stroke-width="0.35">340</text>
<text transform="translate(235.1,805.6) scale(0.8,1)" font-size="11.5" text-anchor="middle" fill="#262626" font-weight="normal" stroke="#262626" stroke-width="0.35">341</text>
<text transform="translate(276.2,805.6) scale(0.8,1)" font-size="11.5" text-anchor="middle" fill="#262626" font-weight="normal" stroke="#262626" stroke-width="0.35">342</text>
<text transform="translate(317.4,805.6) scale(0.8,1)" font-size="11.5" text-anchor="middle" fill="#262626" font-weight="normal" stroke="#262626" stroke-width="0.35">343</text>
<text transform="translate(358.6,805.6) scale(0.8,1)" font-size="11.5" text-anchor="middle" fill="#262626" font-weight="normal" stroke="#262626" stroke-width="0.35">344</text>
<text transform="translate(399.7,805.6) scale(0.8,1)" font-size="11.5" text-anchor="middle" fill="#262626" font-weight="normal" stroke="#262626" stroke-width="0.35">345</text>
<text transform="translate(440.8,805.6) scale(0.8,1)" font-size="11.5" text-anchor="middle" fill="#262626" font-weight="normal" stroke="#262626" stroke-width="0.35">346</text>
<text transform="translate(482.0,805.6) scale(0.8,1)" font-size="11.5" text-anchor="middle" fill="#262626" font-weight="normal" stroke="#262626" stroke-width="0.35">347</text>
<text transform="translate(523.1,805.6) scale(0.8,1)" font-size="11.5" text-anchor="middle" fill="#262626" font-weight="normal" stroke="#262626" stroke-width="0.35">348</text>
<text transform="translate(564.3,805.6) scale(0.8,1)" font-size="11.5" text-anchor="middle" fill="#262626" font-weight="normal" stroke="#262626" stroke-width="0.35">349</text>
<text transform="translate(605.4,805.6) scale(0.8,1)" font-size="11.5" text-anchor="middle" fill="#262626" font-weight="normal" stroke="#262626" stroke-width="0.35">350</text>
<text transform="translate(646.6,805.6) scale(0.8,1)" font-size="11.5" text-anchor="middle" fill="#262626" font-weight="normal" stroke="#262626" stroke-width="0.35">351</text>
<text transform="translate(687.8,805.6) scale(0.8,1)" font-size="11.5" text-anchor="middle" fill="#262626" font-weight="normal" stroke="#262626" stroke-width="0.35">352</text>
<text transform="translate(728.9,805.6) scale(0.8,1)" font-size="11.5" text-anchor="middle" fill="#262626" font-weight="normal" stroke="#262626" stroke-width="0.35">353</text>
<text transform="translate(770.0,805.6) scale(0.8,1)" font-size="11.5" text-anchor="middle" fill="#262626" font-weight="normal" stroke="#262626" stroke-width="0.35">354</text>
<text transform="translate(811.2,805.6) scale(0.8,1)" font-size="11.5" text-anchor="middle" fill="#262626" font-weight="normal" stroke="#262626" stroke-width="0.35">355</text>
<text transform="translate(852.4,805.6) scale(0.8,1)" font-size="11.5" text-anchor="middle" fill="#262626" font-weight="normal" stroke="#262626" stroke-width="0.35">356</text>
<text transform="translate(893.5,805.6) scale(0.8,1)" font-size="11.5" text-anchor="middle" fill="#262626" font-weight="normal" stroke="#262626" stroke-width="0.35">357</text>
<text transform="translate(934.6,805.6) scale(0.8,1)" font-size="11.5" text-anchor="middle" fill="#262626" font-weight="normal" stroke="#262626" stroke-width="0.35">358</text>
<text transform="translate(975.8,805.6) scale(0.8,1)" font-size="11.5" text-anchor="middle" fill="#262626" font-weight="normal" stroke="#262626" stroke-width="0.35">359</text>
<text transform="translate(1016.9,805.6) scale(0.8,1)" font-size="11.5" text-anchor="middle" fill="#262626" font-weight="normal" stroke="#262626" stroke-width="0.35">360</text>
<text transform="translate(1058.1,805.6) scale(0.8,1)" font-size="11.5" text-anchor="middle" fill="#262626" font-weight="normal" stroke="#262626" stroke-width="0.35">361</text>
<text transform="translate(1099.2,805.6) scale(0.8,1)" font-size="11.5" text-anchor="middle" fill="#262626" font-weight="normal" stroke="#262626" stroke-width="0.35">362</text>
<text transform="translate(1140.4,805.6) scale(0.8,1)" font-size="11.5" text-anchor="middle" fill="#262626" font-weight="normal" stroke="#262626" stroke-width="0.35">363</text>
<text transform="translate(1181.5,805.6) scale(0.8,1)" font-size="11.5" text-anchor="middle" fill="#262626" font-weight="normal" stroke="#262626" stroke-width="0.35">364</text>
<circle cx="89.0" cy="773.8" r="13.8" fill="#fff" stroke="#222" stroke-width="1.9"/>
<text transform="translate(89.0,777.8) scale(0.78,1)" font-size="11" text-anchor="middle" fill="#262626" font-weight="normal" stroke="#262626" stroke-width="0.35">E104</text>
<circle cx="251.9" cy="777.0" r="10.6" fill="#fff" stroke="#222" stroke-width="1.9"/>
<text transform="translate(251.9,781.0) scale(0.8,1)" font-size="11" text-anchor="middle" fill="#262626" font-weight="normal" stroke="#262626" stroke-width="0.35">82</text>
<circle cx="333.6" cy="777.0" r="10.6" fill="#fff" stroke="#222" stroke-width="1.9"/>
<text transform="translate(333.6,781.0) scale(0.8,1)" font-size="11" text-anchor="middle" fill="#262626" font-weight="normal" stroke="#262626" stroke-width="0.35">82</text>
<circle cx="498.7" cy="777.0" r="10.6" fill="#fff" stroke="#222" stroke-width="1.9"/>
<text transform="translate(498.7,781.0) scale(0.8,1)" font-size="11" text-anchor="middle" fill="#262626" font-weight="normal" stroke="#262626" stroke-width="0.35">82</text>
<circle cx="580.1" cy="777.0" r="10.6" fill="#fff" stroke="#222" stroke-width="1.9"/>
<text transform="translate(580.1,781.0) scale(0.8,1)" font-size="11" text-anchor="middle" fill="#262626" font-weight="normal" stroke="#262626" stroke-width="0.35">44</text>
<circle cx="829.0" cy="777.0" r="10.6" fill="#fff" stroke="#222" stroke-width="1.9"/>
<text transform="translate(829.0,781.0) scale(0.8,1)" font-size="11" text-anchor="middle" fill="#262626" font-weight="normal" stroke="#262626" stroke-width="0.35">83</text>
<circle cx="911.4" cy="777.0" r="10.6" fill="#fff" stroke="#222" stroke-width="1.9"/>
<text transform="translate(911.4,781.0) scale(0.8,1)" font-size="11" text-anchor="middle" fill="#262626" font-weight="normal" stroke="#262626" stroke-width="0.35">83</text>
<circle cx="1034.0" cy="777.0" r="10.6" fill="#fff" stroke="#222" stroke-width="1.9"/>
<text transform="translate(1034.0,781.0) scale(0.8,1)" font-size="11" text-anchor="middle" fill="#262626" font-weight="normal" stroke="#262626" stroke-width="0.35">611</text>
<circle cx="1076.0" cy="777.0" r="10.6" fill="#fff" stroke="#222" stroke-width="1.9"/>
<text transform="translate(1076.0,781.0) scale(0.8,1)" font-size="11" text-anchor="middle" fill="#262626" font-weight="normal" stroke="#262626" stroke-width="0.35">83</text>
<circle cx="1157.0" cy="777.0" r="10.6" fill="#fff" stroke="#222" stroke-width="1.9"/>
<text transform="translate(1157.0,781.0) scale(0.8,1)" font-size="11" text-anchor="middle" fill="#262626" font-weight="normal" stroke="#262626" stroke-width="0.35">43</text>
<circle cx="1198.8" cy="777.0" r="10.6" fill="#fff" stroke="#222" stroke-width="1.9"/>
<text transform="translate(1198.8,781.0) scale(0.8,1)" font-size="11" text-anchor="middle" fill="#262626" font-weight="normal" stroke="#262626" stroke-width="0.35">83</text>
<path d="M229.4,193.9 C229.6,191.3 231.8,190.7 233.0,189.9 C234.2,190.7 236.4,191.3 236.6,193.9" fill="none" stroke="#222" stroke-width="1.6"/>
<path d="M229.4,233.7 C229.8,236.3 231.8,237.1 233.0,238.1 C234.2,237.1 236.2,236.3 236.6,233.7" fill="none" stroke="#222" stroke-width="1.6"/>
<path d="M353.7,192.4 C353.9,189.8 356.1,189.2 357.3,188.4 C358.5,189.2 360.7,189.8 360.9,192.4" fill="none" stroke="#222" stroke-width="1.6"/>
<path d="M353.7,233.7 C354.1,236.3 356.1,237.1 357.3,238.1 C358.5,237.1 360.5,236.3 360.9,233.7" fill="none" stroke="#222" stroke-width="1.6"/>
<path d="M806.1,196.4 C806.3,193.8 808.5,193.2 809.7,192.4 C810.9,193.2 813.1,193.8 813.3,196.4" fill="none" stroke="#222" stroke-width="1.6"/>
<path d="M806.1,237.2 C806.5,239.8 808.5,240.6 809.7,241.6 C810.9,240.6 812.9,239.8 813.3,237.2" fill="none" stroke="#222" stroke-width="1.6"/>
<path d="M1093.9,194.4 C1094.1,191.8 1096.3,191.2 1097.5,190.4 C1098.7,191.2 1100.9,191.8 1101.1,194.4" fill="none" stroke="#222" stroke-width="1.6"/>
<path d="M1093.9,237.2 C1094.3,239.8 1096.3,240.6 1097.5,241.6 C1098.7,240.6 1100.7,239.8 1101.1,237.2" fill="none" stroke="#222" stroke-width="1.6"/>
<path d="M68.7,335.0 L68.7,343.0" stroke="#222" stroke-width="1.6"/>
<path d="M65.1,338.4 C65.3,335.8 67.5,335.2 68.7,334.4 C69.9,335.2 72.1,335.8 72.3,338.4" fill="none" stroke="#222" stroke-width="1.6"/>
<path d="M151.6,335.0 L151.6,343.0" stroke="#222" stroke-width="1.6"/>
<path d="M148.0,338.4 C148.2,335.8 150.4,335.2 151.6,334.4 C152.8,335.2 155.0,335.8 155.2,338.4" fill="none" stroke="#222" stroke-width="1.6"/>
<path d="M69.0,385.5 L69.0,374.6" stroke="#222" stroke-width="1.6"/>
<path d="M65.4,381.7 C65.8,384.3 67.8,385.1 69.0,386.1 C70.2,385.1 72.2,384.3 72.6,381.7" fill="none" stroke="#222" stroke-width="1.6"/>
<path d="M192.0,385.5 L192.0,374.6" stroke="#222" stroke-width="1.6"/>
<path d="M188.4,381.7 C188.8,384.3 190.8,385.1 192.0,386.1 C193.2,385.1 195.2,384.3 195.6,381.7" fill="none" stroke="#222" stroke-width="1.6"/>
<path d="M274.6,385.5 L274.6,374.6" stroke="#222" stroke-width="1.6"/>
<path d="M271.0,381.7 C271.4,384.3 273.4,385.1 274.6,386.1 C275.8,385.1 277.8,384.3 278.2,381.7" fill="none" stroke="#222" stroke-width="1.6"/>
<path d="M188.4,610.7 C188.6,608.1 190.8,607.5 192.0,606.7 C193.2,607.5 195.4,608.1 195.6,610.7" fill="none" stroke="#222" stroke-width="1.6"/>
<path d="M270.8,610.7 C271.0,608.1 273.2,607.5 274.4,606.7 C275.6,607.5 277.8,608.1 278.0,610.7" fill="none" stroke="#222" stroke-width="1.6"/>
<path d="M353.4,610.7 C353.6,608.1 355.8,607.5 357.0,606.7 C358.2,607.5 360.4,608.1 360.6,610.7" fill="none" stroke="#222" stroke-width="1.6"/>
<path d="M230.0,668.2 C230.4,670.8 232.4,671.6 233.6,672.6 C234.8,671.6 236.8,670.8 237.2,668.2" fill="none" stroke="#222" stroke-width="1.6"/>
<path d="M311.8,668.2 C312.2,670.8 314.2,671.6 315.4,672.6 C316.6,671.6 318.6,670.8 319.0,668.2" fill="none" stroke="#222" stroke-width="1.6"/>
<path d="M769.0,385.5 L769.0,374.6" stroke="#222" stroke-width="1.6"/>
<path d="M765.4,381.7 C765.8,384.3 767.8,385.1 769.0,386.1 C770.2,385.1 772.2,384.3 772.6,381.7" fill="none" stroke="#222" stroke-width="1.6"/>
<path d="M851.4,385.5 L851.4,374.6" stroke="#222" stroke-width="1.6"/>
<path d="M847.8,381.7 C848.2,384.3 850.2,385.1 851.4,386.1 C852.6,385.1 854.6,384.3 855.0,381.7" fill="none" stroke="#222" stroke-width="1.6"/>
<path d="M765.3,610.7 C765.5,608.1 767.7,607.5 768.9,606.7 C770.1,607.5 772.3,608.1 772.5,610.7" fill="none" stroke="#222" stroke-width="1.6"/>
<path d="M847.2,610.7 C847.4,608.1 849.6,607.5 850.8,606.7 C852.0,607.5 854.2,608.1 854.4,610.7" fill="none" stroke="#222" stroke-width="1.6"/>
<path d="M929.8,610.7 C930.0,608.1 932.2,607.5 933.4,606.7 C934.6,607.5 936.8,608.1 937.0,610.7" fill="none" stroke="#222" stroke-width="1.6"/>
<path d="M806.3,668.2 C806.7,670.8 808.7,671.6 809.9,672.6 C811.1,671.6 813.1,670.8 813.5,668.2" fill="none" stroke="#222" stroke-width="1.6"/>
<path d="M888.2,668.2 C888.6,670.8 890.6,671.6 891.8,672.6 C893.0,671.6 895.0,670.8 895.4,668.2" fill="none" stroke="#222" stroke-width="1.6"/>
<text x="343" y="427.5" font-family="'Liberation Serif', serif" font-weight="bold" font-size="58" fill="#a0a2f2" stroke="#ffffff" stroke-width="1.6" style="mix-blend-mode:multiply" textLength="550" lengthAdjust="spacingAndGlyphs">avto-elektro-shemy.ru</text></svg>
</body></html>
